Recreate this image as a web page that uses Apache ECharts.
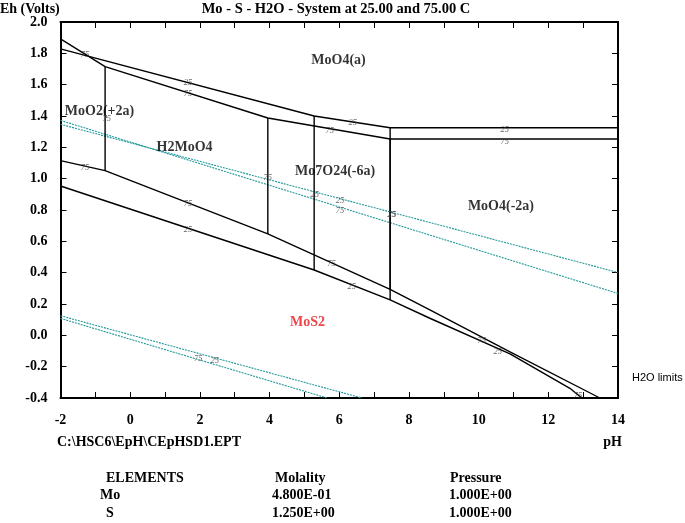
<!DOCTYPE html>
<html>
<head>
<meta charset="utf-8">
<script src="https://cdn.jsdelivr.net/npm/echarts@6/dist/echarts.min.js"></script>
<style>html,body{margin:0;padding:0;background:#fff}#c{width:685px;height:523px}</style>
</head>
<body>
<div id="c"></div>
<script>
// ---- data (pH, Eh) ----
const xTicks = [-2, 0, 2, 4, 6, 8, 10, 12, 14];
const yTicks = [-0.4, -0.2, 0.0, 0.2, 0.4, 0.6, 0.8, 1.0, 1.2, 1.4, 1.6, 1.8, 2.0];
const top25 = [[-2, 1.828], [5.28, 1.400], [7.46, 1.325], [14, 1.325]];
const top75 = [[-2, 1.892], [-0.72, 1.715], [3.95, 1.387], [7.46, 1.253], [14, 1.253]];
const low25 = [[-2, 0.953], [5.28, 0.417], [7.46, 0.226], [8.6, 0.109], [10.9, -0.119], [12.62, -0.338], [12.96, -0.4]];
const low75 = [[-2, 1.115], [-0.72, 1.051], [3.95, 0.647], [7.46, 0.294], [8.6, 0.162], [10.9, -0.106], [13.48, -0.4]];
const vert75a = [[-0.72, 1.715], [-0.72, 1.051]];
const vert75b = [[3.95, 1.387], [3.95, 0.647]];
const vert25a = [[5.28, 1.400], [5.28, 0.417]];
const vert25b = [[7.46, 1.325], [7.46, 0.226]];
const vert75c = [[7.46, 1.253], [7.46, 0.294]];
const o2Line25 = [[-2, 1.347], [14, 0.401]];
const o2Line75 = [[-2, 1.372], [14, 0.267]];
const h2Line25 = [[-2, 0.125], [6.65, -0.4]];
const h2Line75 = [[-2, 0.108], [5.65, -0.4]];
const regionLabels = [
  [5.98, 1.757, 'MoO4(a)'],
  [-0.88, 1.428, 'MoO2(+2a)'],
  [1.56, 1.200, 'H2MoO4'],
  [5.88, 1.049, 'Mo7O24(-6a)'],
  [10.64, 0.826, 'MoO4(-2a)']
];
const redLabels = [[5.09, 0.084, 'MoS2']];
const tempLabels = [
  [-1.30, 1.789, '75'], [1.66, 1.611, '25'], [1.66, 1.541, '75'], [-0.67, 1.381, '75'],
  [-1.30, 1.068, '75'], [1.66, 0.839, '75'], [1.66, 0.673, '25'], [3.95, 1.004, '75'],
  [5.30, 0.896, '25'], [6.02, 0.858, '25'], [6.02, 0.794, '75'], [6.39, 1.355, '25'],
  [5.73, 1.304, '75'], [10.75, 1.311, '25'], [10.75, 1.236, '75'], [7.50, 0.768, '25'],
  [7.52, 0.768, '75'], [5.78, 0.460, '75'], [6.36, 0.311, '25'], [10.09, -0.034, '75'],
  [10.55, -0.104, '25'], [12.85, -0.387, '75'], [1.95, -0.151, '75'], [2.43, -0.161, '25']
];

const serif = 'Liberation Serif, Times New Roman, serif';
const chart = echarts.init(document.getElementById('c'));

function blackLine(data, w) {
  return { type: 'line', data: data, symbol: 'none', silent: true, animation: false,
    lineStyle: { color: '#000', width: w || 1.4 }, z: 3 };
}
function waterLine(data) {
  return { type: 'line', data: data, symbol: 'none', silent: true, animation: false,
    lineStyle: { color: '#23989a', width: 1.1, type: [2, 1] }, z: 2 };
}
function textSeries(data, font, color, weight, style) {
  return { type: 'scatter', data: data, symbolSize: 0, silent: true, animation: false, z: 4,
    encode: { x: 0, y: 1 },
    label: { show: true, position: 'inside', formatter: p => p.data[2],
      fontFamily: serif, fontSize: font, color: color, fontWeight: weight, fontStyle: style || 'normal' } };
}

const axisLineStyle = { show: true, onZero: false, lineStyle: { color: '#000', width: 2 } };
const tickStyle = { show: true, inside: true, length: 6, lineStyle: { color: '#000', width: 1 } };
const F = 'bold 14px ' + serif;

chart.setOption({
  animation: false,
  grid: { left: 60.5, right: 67, top: 22, bottom: 125, containLabel: false },
  xAxis: [
    { type: 'value', min: xTicks[0], max: xTicks[xTicks.length - 1], interval: 1, position: 'bottom',
      axisLine: axisLineStyle, axisTick: tickStyle, splitLine: { show: false },
      axisLabel: { margin: 15, fontFamily: serif, fontSize: 14, fontWeight: 'bold', color: '#000',
        formatter: v => (xTicks.indexOf(v) >= 0 ? String(v) : '') } },
    { type: 'value', min: xTicks[0], max: xTicks[xTicks.length - 1], interval: 1, position: 'top',
      axisLine: axisLineStyle, axisTick: tickStyle, splitLine: { show: false }, axisLabel: { show: false } }
  ],
  yAxis: [
    { type: 'value', min: yTicks[0], max: yTicks[yTicks.length - 1], interval: 0.2, position: 'left',
      axisLine: axisLineStyle, axisTick: tickStyle, splitLine: { show: false },
      axisLabel: { margin: 13, fontFamily: serif, fontSize: 14, fontWeight: 'bold', color: '#000',
        formatter: v => v.toFixed(1) } },
    { type: 'value', min: yTicks[0], max: yTicks[yTicks.length - 1], interval: 0.2, position: 'right',
      axisLine: axisLineStyle, axisTick: tickStyle, splitLine: { show: false }, axisLabel: { show: false } }
  ],
  series: [
    waterLine(o2Line25), waterLine(o2Line75), waterLine(h2Line25), waterLine(h2Line75),
    blackLine(top25), blackLine(top75), blackLine(low25), blackLine(low75),
    blackLine(vert75a), blackLine(vert75b), blackLine(vert25a), blackLine(vert25b), blackLine(vert75c),
    textSeries(regionLabels, 14, '#000', 'bold'),
    textSeries(redLabels, 14, '#e8161b', 'bold'),
    textSeries(tempLabels, 8.5, '#444', 'normal', 'italic')
  ],
  graphic: [
    { type: 'text', left: 0, top: 2, style: { text: 'Eh (Volts)', font: F, fill: '#000' } },
    { type: 'text', x: 336, y: 2, style: { text: 'Mo - S - H2O - System at 25.00 and 75.00 C', font: 'bold 14.5px ' + serif, fill: '#000', align: 'center' } },
    { type: 'text', x: 632, y: 372, style: { text: 'H2O limits', font: '11px Liberation Sans, Arial, sans-serif', fill: '#000' } },
    { type: 'text', x: 57, y: 435, style: { text: 'C:\\HSC6\\EpH\\CEpHSD1.EPT', font: F, fill: '#000' } },
    { type: 'text', x: 622, y: 435, style: { text: 'pH', font: F, fill: '#000', align: 'right' } },
    { type: 'text', x: 106, y: 471, style: { text: 'ELEMENTS', font: F, fill: '#000' } },
    { type: 'text', x: 275, y: 471, style: { text: 'Molality', font: F, fill: '#000' } },
    { type: 'text', x: 450, y: 471, style: { text: 'Pressure', font: F, fill: '#000' } },
    { type: 'text', x: 100, y: 488, style: { text: 'Mo', font: F, fill: '#000' } },
    { type: 'text', x: 272, y: 488, style: { text: '4.800E-01', font: F, fill: '#000' } },
    { type: 'text', x: 449, y: 488, style: { text: '1.000E+00', font: F, fill: '#000' } },
    { type: 'text', x: 106, y: 506, style: { text: 'S', font: F, fill: '#000' } },
    { type: 'text', x: 272, y: 506, style: { text: '1.250E+00', font: F, fill: '#000' } },
    { type: 'text', x: 449, y: 506, style: { text: '1.000E+00', font: F, fill: '#000' } }
  ]
});
</script>
</body>
</html>
